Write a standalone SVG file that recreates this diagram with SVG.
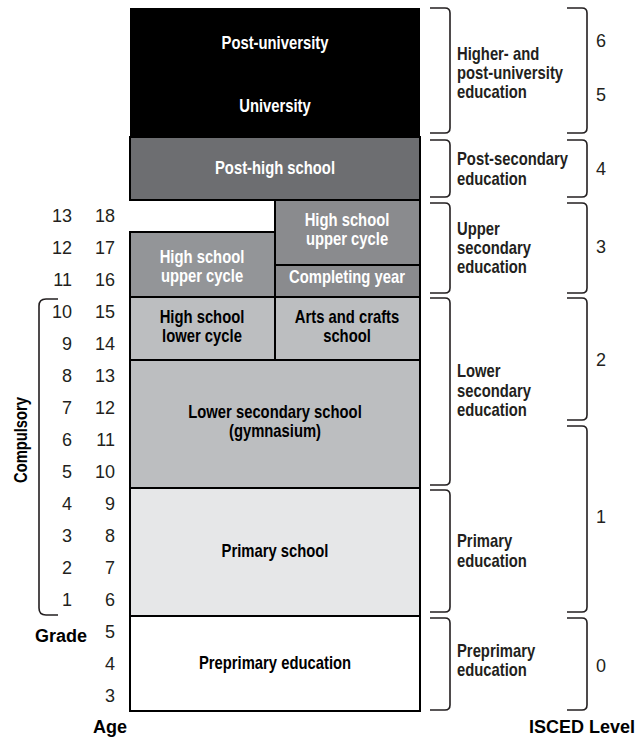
<svg xmlns="http://www.w3.org/2000/svg" width="636" height="740" viewBox="0 0 636 740">
<style>
.box{stroke:#000;stroke-width:2}
.lb{font-family:"Liberation Sans",Arial,sans-serif;font-weight:bold;font-size:18.5px;text-anchor:middle}
.w{fill:#fff}
.k{fill:#000}
.side{font-family:"Liberation Sans",Arial,sans-serif;font-weight:bold;font-size:18.5px;fill:#231f20}
.num{font-family:"Liberation Sans",Arial,sans-serif;font-size:18px;fill:#231f20}
.ne{text-anchor:end}
.hd{font-family:"Liberation Sans",Arial,sans-serif;font-weight:bold;font-size:18px;fill:#000}
.br{fill:none;stroke:#231f20;stroke-width:1.6}
</style>
<rect width="636" height="740" fill="#fff"/>

<g id="post-university">
<rect x="130" y="8" width="290" height="64" fill="#000"/>
<text class="lb w" transform="translate(275 49) scale(0.8 1)">Post-university</text>
</g>
<g id="university">
<rect x="130" y="72" width="290" height="65" fill="#000"/>
<text class="lb w" transform="translate(275 112) scale(0.8 1)">University</text>
</g>
<g id="post-high-school">
<rect class="box" x="130" y="137" width="290" height="63" fill="#6d6e71"/>
<text class="lb w" transform="translate(275 174) scale(0.8 1)">Post-high school</text>
</g>
<g id="hs-upper-right">
<rect class="box" x="275" y="200" width="145" height="65" fill="#8a8b8e"/>
<text class="lb w" transform="translate(347 226) scale(0.8 1)">High school</text>
<text class="lb w" transform="translate(347 245) scale(0.8 1)">upper cycle</text>
</g>
<g id="completing-year">
<rect class="box" x="275" y="265" width="145" height="32" fill="#8a8b8e"/>
<text class="lb w" transform="translate(347 283) scale(0.8 1)">Completing year</text>
</g>
<g id="hs-upper-left">
<rect class="box" x="130" y="232" width="145" height="65" fill="#939598"/>
<text class="lb w" transform="translate(202 263) scale(0.8 1)">High school</text>
<text class="lb w" transform="translate(202 282) scale(0.8 1)">upper cycle</text>
</g>
<g id="hs-lower">
<rect class="box" x="130" y="297" width="145" height="63" fill="#bcbec0"/>
<text class="lb k" transform="translate(202 323) scale(0.8 1)">High school</text>
<text class="lb k" transform="translate(202 342) scale(0.8 1)">lower cycle</text>
</g>
<g id="arts-crafts">
<rect class="box" x="275" y="297" width="145" height="63" fill="#bcbec0"/>
<text class="lb k" transform="translate(347 323) scale(0.8 1)">Arts and crafts</text>
<text class="lb k" transform="translate(347 342) scale(0.8 1)">school</text>
</g>
<g id="lower-secondary">
<rect class="box" x="130" y="360" width="290" height="128" fill="#bcbec0"/>
<text class="lb k" transform="translate(275 418) scale(0.8 1)">Lower secondary school</text>
<text class="lb k" transform="translate(275 437) scale(0.8 1)">(gymnasium)</text>
</g>
<g id="primary">
<rect class="box" x="130" y="488" width="290" height="128" fill="#e6e7e8"/>
<text class="lb k" transform="translate(275 557) scale(0.8 1)">Primary school</text>
</g>
<g id="preprimary">
<rect class="box" x="130" y="616" width="290" height="95" fill="#fff"/>
<text class="lb k" transform="translate(275 669) scale(0.8 1)">Preprimary education</text>
</g>

<g id="connectors">
<path class="br" d="M430,8 H445 Q450,8 450,13 V128 Q450,133 445,133 H430"/>
<path class="br" d="M430,140 H445 Q450,140 450,145 V192 Q450,197 445,197 H430"/>
<path class="br" d="M430,203 H445 Q450,203 450,208 V288 Q450,293 445,293 H430"/>
<path class="br" d="M430,298 H445 Q450,298 450,303 V480 Q450,485 445,485 H430"/>
<path class="br" d="M430,490 H445 Q450,490 450,495 V607 Q450,612 445,612 H430"/>
<path class="br" d="M430,618 H445 Q450,618 450,623 V705 Q450,710 445,710 H430"/>
<path class="br" d="M567,8 H582 Q587,8 587,13 V128 Q587,133 582,133 H567"/>
<path class="br" d="M567,140 H582 Q587,140 587,145 V192 Q587,197 582,197 H567"/>
<path class="br" d="M567,203 H582 Q587,203 587,208 V288 Q587,293 582,293 H567"/>
<path class="br" d="M567,298 H582 Q587,298 587,303 V415 Q587,420 582,420 H567"/>
<path class="br" d="M567,426 H582 Q587,426 587,431 V607 Q587,612 582,612 H567"/>
<path class="br" d="M567,618 H582 Q587,618 587,623 V705 Q587,710 582,710 H567"/>
<path class="br" d="M58,299 H46 Q39,299 39,306 V608 Q39,615 46,615 H58"/>
</g>

<g id="isced-labels">
<text class="side" transform="translate(457 60) scale(0.8 1)">Higher- and</text>
<text class="side" transform="translate(457 79) scale(0.8 1)">post-university</text>
<text class="side" transform="translate(457 98) scale(0.8 1)">education</text>
<text class="side" transform="translate(457 165) scale(0.8 1)">Post-secondary</text>
<text class="side" transform="translate(457 185) scale(0.8 1)">education</text>
<text class="side" transform="translate(457 235) scale(0.8 1)">Upper</text>
<text class="side" transform="translate(457 254) scale(0.8 1)">secondary</text>
<text class="side" transform="translate(457 273) scale(0.8 1)">education</text>
<text class="side" transform="translate(457 377) scale(0.8 1)">Lower</text>
<text class="side" transform="translate(457 397) scale(0.8 1)">secondary</text>
<text class="side" transform="translate(457 416) scale(0.8 1)">education</text>
<text class="side" transform="translate(457 547) scale(0.8 1)">Primary</text>
<text class="side" transform="translate(457 567) scale(0.8 1)">education</text>
<text class="side" transform="translate(457 657) scale(0.8 1)">Preprimary</text>
<text class="side" transform="translate(457 676) scale(0.8 1)">education</text>
</g>

<g id="isced-levels">
<text class="num" x="596" y="47">6</text>
<text class="num" x="596" y="101">5</text>
<text class="num" x="596" y="175">4</text>
<text class="num" x="596" y="253">3</text>
<text class="num" x="596" y="366">2</text>
<text class="num" x="596" y="523">1</text>
<text class="num" x="596" y="672">0</text>
</g>

<g id="ages">
<text class="num ne" x="115" y="222">18</text>
<text class="num ne" x="115" y="254">17</text>
<text class="num ne" x="115" y="286">16</text>
<text class="num ne" x="115" y="318">15</text>
<text class="num ne" x="115" y="350">14</text>
<text class="num ne" x="115" y="382">13</text>
<text class="num ne" x="115" y="414">12</text>
<text class="num ne" x="115" y="446">11</text>
<text class="num ne" x="115" y="478">10</text>
<text class="num ne" x="115" y="510">9</text>
<text class="num ne" x="115" y="542">8</text>
<text class="num ne" x="115" y="574">7</text>
<text class="num ne" x="115" y="606">6</text>
<text class="num ne" x="115" y="638">5</text>
<text class="num ne" x="115" y="670">4</text>
<text class="num ne" x="115" y="702">3</text>
</g>

<g id="grades">
<text class="num ne" x="72" y="222">13</text>
<text class="num ne" x="72" y="254">12</text>
<text class="num ne" x="72" y="286">11</text>
<text class="num ne" x="72" y="318">10</text>
<text class="num ne" x="72" y="350">9</text>
<text class="num ne" x="72" y="382">8</text>
<text class="num ne" x="72" y="414">7</text>
<text class="num ne" x="72" y="446">6</text>
<text class="num ne" x="72" y="478">5</text>
<text class="num ne" x="72" y="510">4</text>
<text class="num ne" x="72" y="542">3</text>
<text class="num ne" x="72" y="574">2</text>
<text class="num ne" x="72" y="606">1</text>
</g>

<g id="axis-titles">
<text class="hd" x="27" y="440" text-anchor="middle" transform="rotate(-90 27 440)" textLength="86" lengthAdjust="spacingAndGlyphs">Compulsory</text>
<text class="hd" x="87" y="642" text-anchor="end">Grade</text>
<text class="hd" x="110" y="733" text-anchor="middle">Age</text>
<text class="hd" x="635" y="733" text-anchor="end">ISCED Level</text>
</g>
</svg>
